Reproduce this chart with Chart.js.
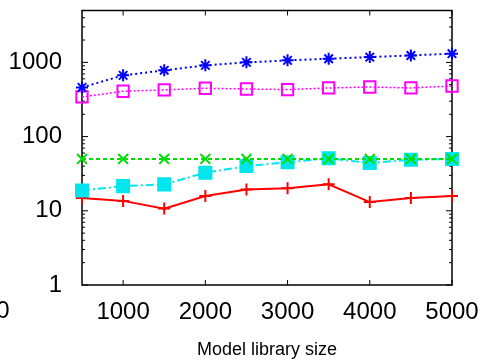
<!DOCTYPE html>
<html>
<head>
<meta charset="utf-8">
<script src="https://cdn.jsdelivr.net/npm/chart.js@4.4.1/dist/chart.umd.min.js"></script>
<style>
  html, body { margin: 0; padding: 0; background: #fff; }
</style>
</head>
<body>
<canvas id="chart" width="487" height="360"></canvas>
<script>
// values
const librarySizes = [500, 1000, 1500, 2000, 2500, 3000, 3500, 4000, 4500, 5000];
const blueStars    = [460, 668, 781, 911, 1000, 1064, 1120, 1178, 1240, 1310];
const magentaBoxes = [342, 408, 425, 448, 438, 430, 452, 466, 452, 480];
const greenCrosses = [50, 50, 50, 50, 50, 50, 50, 50, 50, 50];
const cyanBoxes    = [18.8, 21.5, 22.7, 32.6, 40, 45, 51, 44, 48.7, 50];
const redPlus      = [14.9, 13.6, 10.7, 15.8, 19.4, 20.2, 22.7, 13.1, 14.9, 15.8];

const xTicks = [1000, 2000, 3000, 4000, 5000];
const yTicks = [1, 10, 100, 1000];

const FONT = "'Liberation Sans', Arial, Helvetica, sans-serif";

function series(values, color, style, radius, dash, width, filled) {
  return {
    data: librarySizes.map((x, i) => ({ x: x, y: values[i] })),
    borderColor: color,
    backgroundColor: filled ? color : 'rgba(0,0,0,0)',
    pointBorderColor: color,
    pointBackgroundColor: filled ? color : 'rgba(0,0,0,0)',
    pointStyle: style,
    pointRadius: radius,
    pointBorderWidth: 2,
    borderWidth: width,
    borderDash: dash,
    tension: 0,
    clip: false
  };
}

// inward ticks, frame box, and the stray "0" label at the left
const framePlugin = {
  id: 'frame',
  beforeDatasetsDraw(chart) {
    const { ctx, chartArea: a, scales: { x, y } } = chart;
    ctx.save();
    ctx.strokeStyle = '#000';
    ctx.lineWidth = 1;
    ctx.beginPath();
    xTicks.forEach(v => {
      const px = x.getPixelForValue(v);
      ctx.moveTo(px, a.bottom); ctx.lineTo(px, a.bottom - 5);
      ctx.moveTo(px, a.top); ctx.lineTo(px, a.top + 5);
    });
    for (let d = 1; d <= 1000; d *= 10) {
      for (let m = 1; m <= 9; m++) {
        const v = d * m;
        if (v > 5000) break;
        const len = m === 1 ? 6 : 3;
        const py = y.getPixelForValue(v);
        ctx.moveTo(a.left, py); ctx.lineTo(a.left + len, py);
        ctx.moveTo(a.right, py); ctx.lineTo(a.right - len, py);
      }
    }
    ctx.stroke();
    ctx.lineWidth = 1.5;
    ctx.strokeRect(a.left, a.top, a.right - a.left, a.bottom - a.top);
    ctx.restore();
  },
  afterDraw(chart) {
    const ctx = chart.ctx;
    ctx.save();
    ctx.fillStyle = '#000';
    ctx.font = '24px ' + FONT;
    ctx.textAlign = 'center';
    ctx.textBaseline = 'middle';
    ctx.fillText('0', 3, 311);
    ctx.restore();
  }
};

new Chart(document.getElementById('chart'), {
  type: 'line',
  data: {
    datasets: [
      series(blueStars, '#0000ff', 'star', 6, [2, 3], 2, false),
      series(magentaBoxes, '#ff00ff', 'rect', 8, [2, 2], 1.5, false),
      series(greenCrosses, '#00dd00', 'crossRot', 7, [4, 3], 2, false),
      series(cyanBoxes, '#00e5ee', 'rect', 8.5, [8, 3, 2, 3], 2, true),
      series(redPlus, '#ff0000', 'cross', 6, [], 2, false)
    ]
  },
  options: {
    responsive: false,
    animation: false,
    layout: { padding: { top: 10, right: 35, left: 0, bottom: 0 } },
    plugins: {
      legend: { display: false },
      tooltip: { enabled: false }
    },
    scales: {
      x: {
        type: 'linear',
        min: 500,
        max: 5000,
        afterBuildTicks: s => { s.ticks = xTicks.map(v => ({ value: v })); },
        afterFit: s => { s.height = 75; s.paddingLeft = 0; s.paddingRight = 0; },
        grid: { display: false, drawTicks: false },
        border: { display: false },
        ticks: {
          color: '#000',
          font: { family: FONT, size: 24 },
          padding: 13,
          maxRotation: 0,
          callback: v => String(v)
        },
        title: {
          display: true,
          text: 'Model library size',
          color: '#000',
          font: { family: FONT, size: 18 },
          padding: { top: 0, bottom: -1 }
        }
      },
      y: {
        type: 'logarithmic',
        min: 1,
        max: 5000,
        afterBuildTicks: s => { s.ticks = yTicks.map(v => ({ value: v })); },
        afterFit: s => { s.width = 82; s.paddingTop = 0; s.paddingBottom = 0; },
        grid: { display: false, drawTicks: false },
        border: { display: false },
        ticks: {
          color: '#000',
          font: { family: FONT, size: 24 },
          padding: 20,
          callback: v => String(v)
        }
      }
    }
  },
  plugins: [framePlugin]
});
</script>
</body>
</html>
